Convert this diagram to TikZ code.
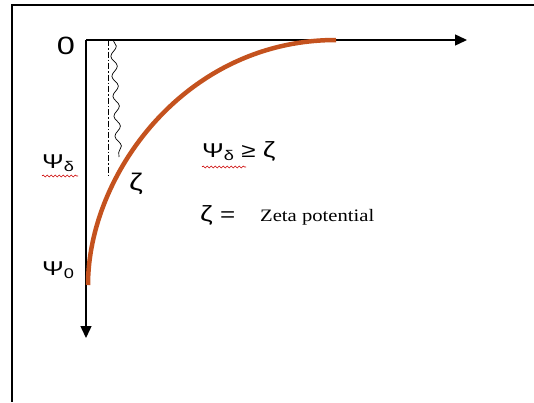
\documentclass[tikz,border=0pt]{standalone}
\usepackage{fontspec}
\setmainfont{Liberation Sans}
\newfontfamily\seriffont{Liberation Serif}
\usetikzlibrary{arrows.meta,decorations.pathmorphing}
\definecolor{curvec}{RGB}{196,82,30}
\newcommand{\hs}[1]{\scalebox{1.3}[1]{#1}}
\newcommand{\sbx}[1]{\raisebox{-3pt}{\fontsize{14}{14}\selectfont #1}}
\tikzset{
  axis/.style={line width=1.4pt,-{Triangle[length=12pt,width=11pt]}},
  lbl/.style={inner sep=0pt,anchor=base west,font=\fontsize{20}{22}\selectfont},
  spell/.style={draw=red!80!black,line width=0.6pt,decorate,decoration={snake,amplitude=1pt,segment length=4pt}},
}
\begin{document}
\begin{tikzpicture}[x=1pt,y=-1pt]
\useasboundingbox (0,0) rectangle (534,402);
% frame
\draw[line width=1.5pt] (534,5) -- (12,5) -- (12,402);
% axes
\coordinate (O) at (86,40);
\coordinate (Xe) at (467,40);
\coordinate (Ye) at (86,338);
\draw[axis] (O) -- (Xe);
\draw[axis] (O) -- (Ye);
% dash dot line
\coordinate (Dt) at (108,40);
\coordinate (Db) at (108,176);
\draw[line width=0.8pt,dash pattern=on 6pt off 2pt on 1.5pt off 2pt] (Dt) -- (Db);
% curve
\coordinate (Cs) at (88,285);
\coordinate (Ce) at (336,40);
\draw[curvec,line width=4.5pt] (Cs) .. controls (88,175) and (185,40) .. (Ce);
% wavy line
\coordinate (Wt) at (113,40);
\coordinate (Wb) at (119,157);
\draw[line width=0.7pt,decorate,decoration={snake,amplitude=3pt,segment length=20pt}] (Wt) -- (Wb);
% labels
\node[inner sep=0pt,font=\fontsize{25}{27}\selectfont] (zero) at (66,46) {\hs{0}};
\node[lbl] (psid) at (42,168) {\hs{Ψ\sbx{δ}}};
\draw[spell] (42,176) -- (78,176);
\node[lbl] (psi0) at (42,275) {\hs{Ψ\sbx{0}}};
\node[lbl,font=\fontsize{24}{26}\selectfont] (zeta) at (129,190) {\hs{ζ}};
\node[lbl] (ineq) at (202,157) {\hs{Ψ\sbx{δ} ≥ {\fontsize{22}{24}\selectfont ζ}}};
\draw[spell] (202,167) -- (246,167);
\node[lbl] (zeq) at (200,221) {\hs{{\fontsize{22}{24}\selectfont ζ} =}};
\node[inner sep=0pt,anchor=base west,font=\seriffont\fontsize{17.5}{19}\selectfont] (def) at (260,221) {\scalebox{1.18}[1]{Zeta potential}};
\end{tikzpicture}
\end{document}
